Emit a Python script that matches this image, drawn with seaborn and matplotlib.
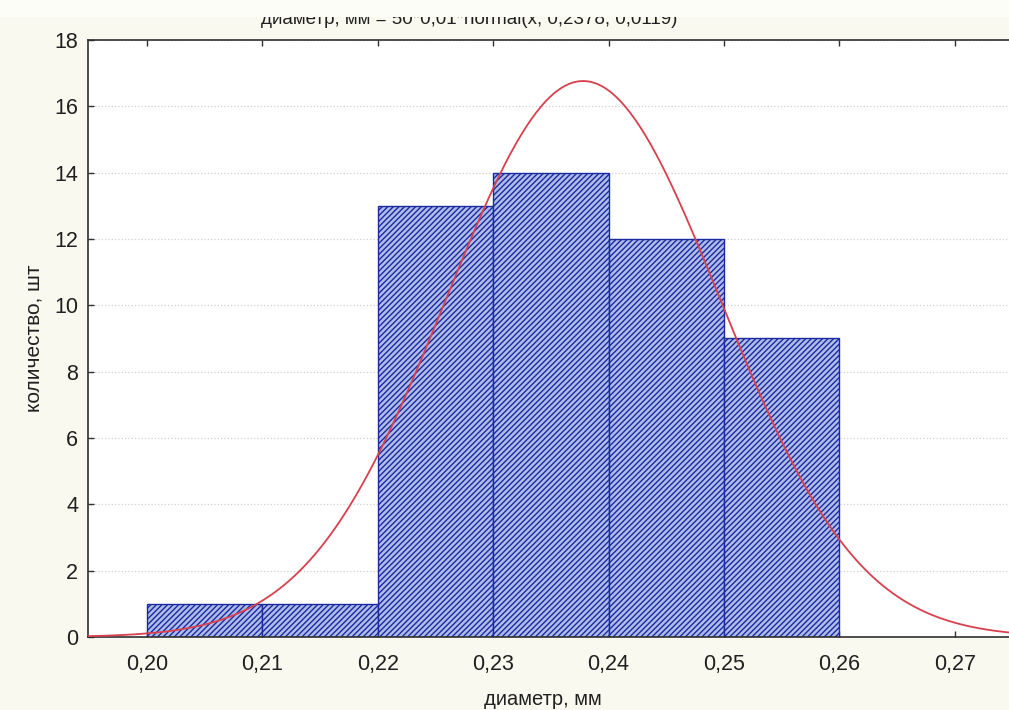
import numpy as np
import pandas as pd
import seaborn as sns
import matplotlib.pyplot as plt
from matplotlib.patches import Rectangle

# данные гистограммы
bin_edges = [0.20, 0.21, 0.22, 0.23, 0.24, 0.25, 0.26]
counts = [1, 1, 13, 14, 12, 9]
# параметры нормальной кривой из заголовка
n_total = 50
bin_width = 0.01
mu = 0.2378
sigma = 0.0119

sns.set_theme(style='white')
plt.rcParams['font.family'] = ['Liberation Sans', 'DejaVu Sans']

bg = '#f9f9ef'
fig = plt.figure(figsize=(10.09, 7.10), dpi=100, facecolor=bg)
ax = fig.add_axes([0.0872, 0.1028, 0.9128, 0.8409])
ax.set_facecolor('white')

centers = [(a + b) / 2 for a, b in zip(bin_edges[:-1], bin_edges[1:])]
df = pd.DataFrame({'d': centers, 'n': counts})
sns.histplot(data=df, x='d', weights='n', bins=bin_edges, ax=ax,
             color='#b0bce8', edgecolor='#1a2aa0', linewidth=1.0,
             alpha=1.0, hatch='//////', zorder=2)

x = np.linspace(0.19, 0.28, 400)
y = n_total * bin_width * np.exp(-0.5 * ((x - mu) / sigma) ** 2) / (sigma * np.sqrt(2 * np.pi))
sns.lineplot(x=x, y=y, ax=ax, color='#d8404e', linewidth=1.3, zorder=3)

ax.set_xlim(0.1949, 0.2747)
ax.set_ylim(0, 18)
ax.set_yticks(range(0, 19, 2))
ax.set_xticks(bin_edges + [0.27])
ax.set_xticklabels([f'{v:.2f}'.replace('.', ',') for v in bin_edges + [0.27]])
ax.yaxis.grid(True, linestyle=':', color='#d0d0d0', linewidth=0.9)
ax.set_axisbelow(True)

for s in ['left', 'top', 'bottom']:
    ax.spines[s].set_color('#303030')
    ax.spines[s].set_linewidth(1.2)
ax.spines['right'].set_visible(False)
ax.tick_params(direction='in', length=4, width=1, color='#303030',
               labelsize=15.5, labelcolor='#202020', top=True, bottom=True, left=True)
ax.tick_params(axis='x', pad=12)
ax.tick_params(axis='y', pad=7)

ax.set_xlabel('диаметр, мм', fontsize=14.5, color='#202020', labelpad=10)
ax.xaxis.set_label_coords(0.494, -0.088)
ax.set_ylabel('количество, шт', fontsize=15, color='#202020', labelpad=8)

fig.text(0.465, 1 - 24 / 710, 'диаметр, мм = 50*0,01*normal(x; 0,2378; 0,0119)',
         ha='center', va='baseline', fontsize=13.5, color='#202020', zorder=3)
# верхняя часть заголовка обрезана на исходном снимке
fig.patches.append(Rectangle((0, 1 - 17 / 710), 1, 17 / 710, transform=fig.transFigure,
                             facecolor='#fdfdf8', edgecolor='none', zorder=5))

fig.savefig('out.png', dpi=100, facecolor=bg)
